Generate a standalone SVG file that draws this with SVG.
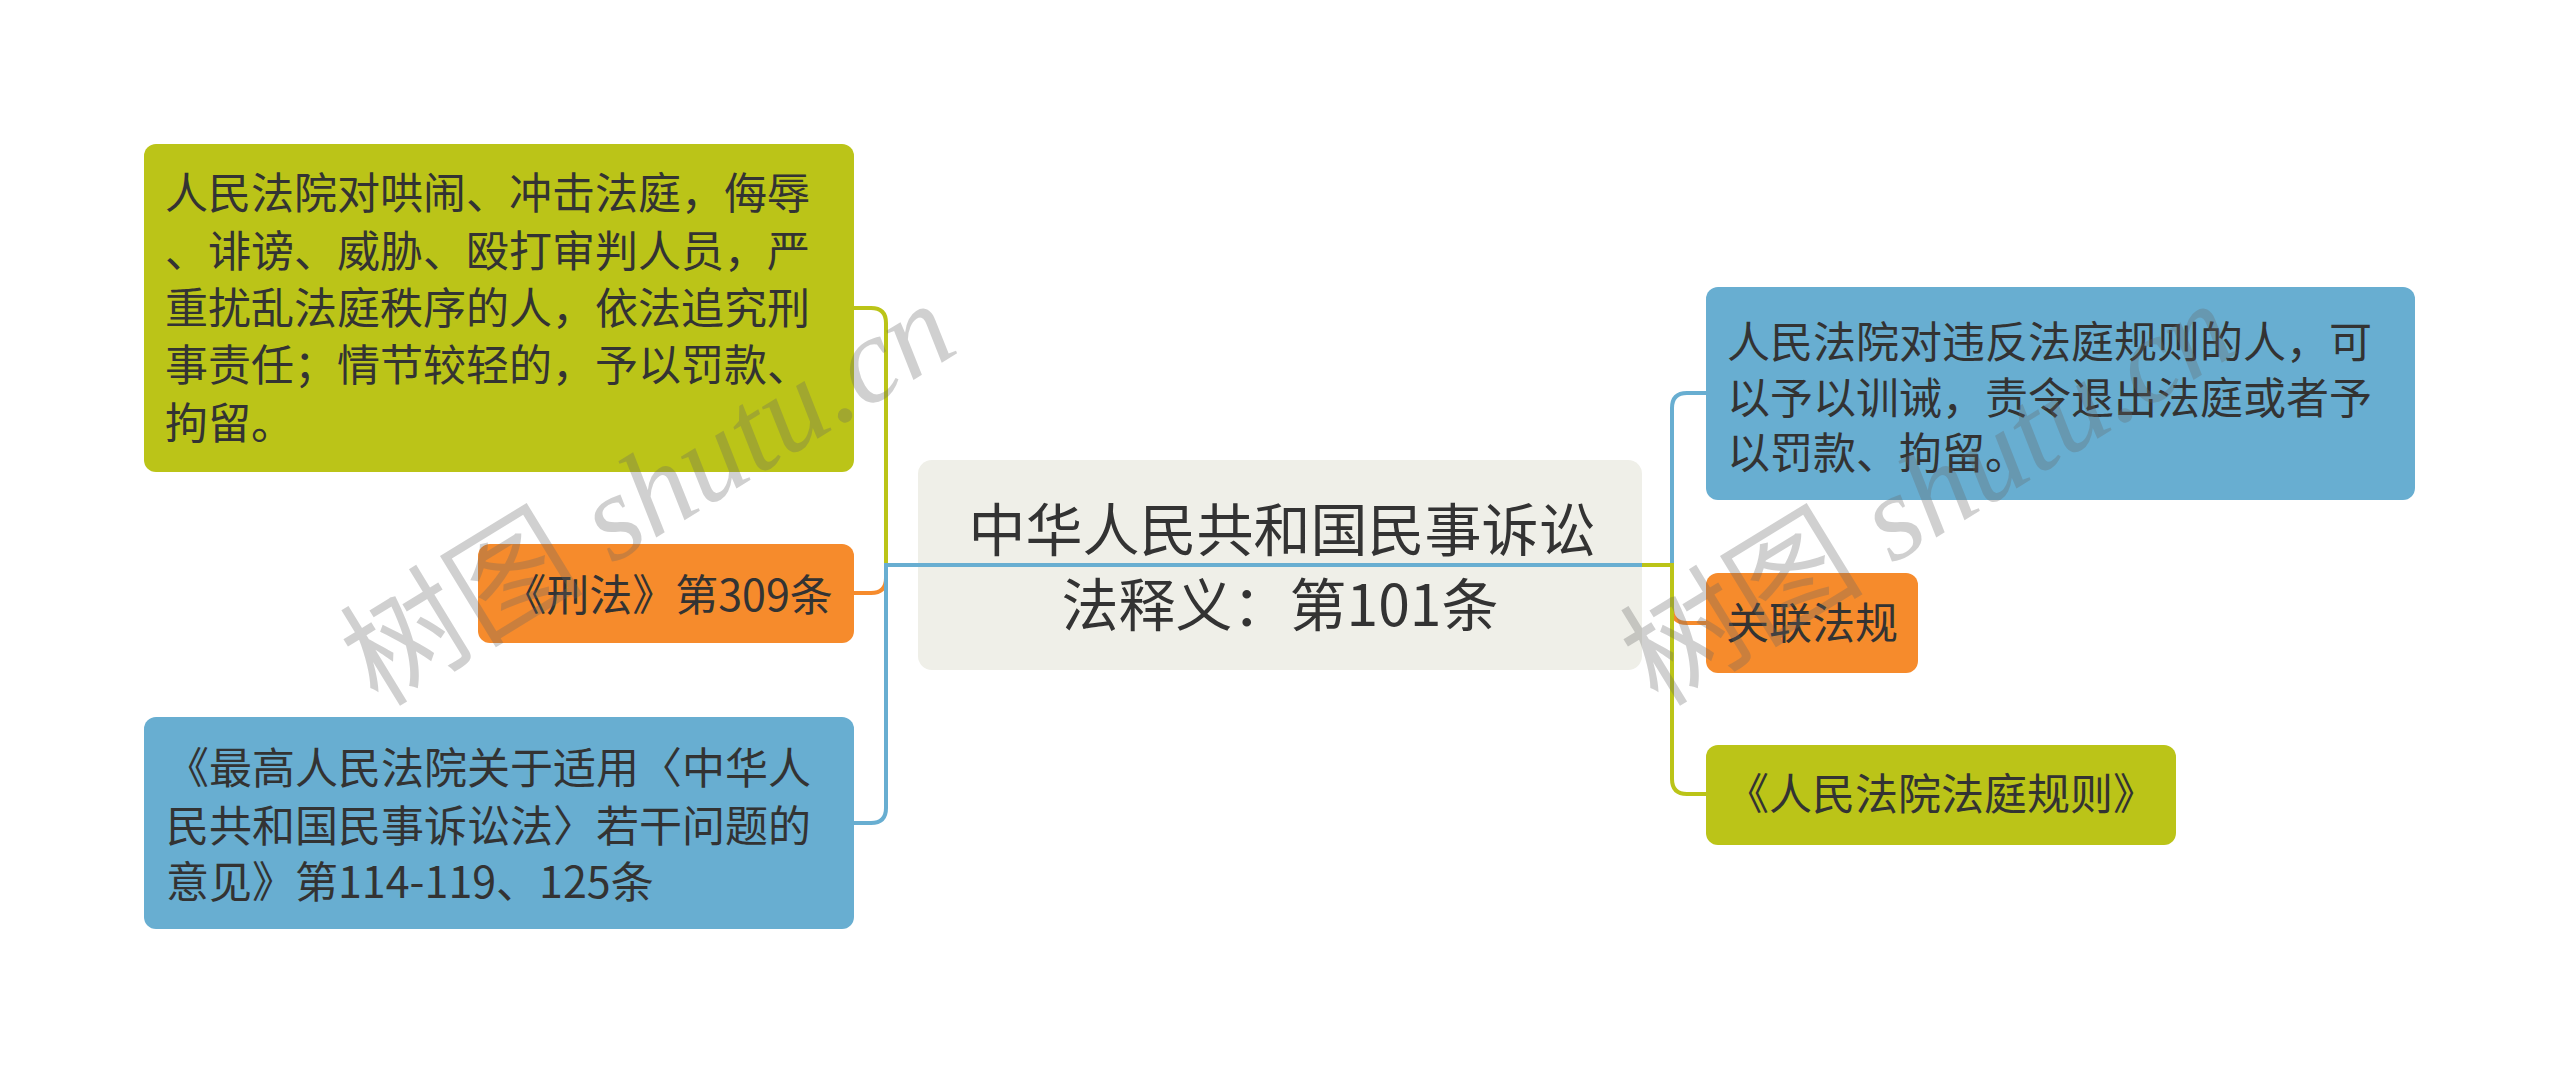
<svg xmlns="http://www.w3.org/2000/svg" width="2560" height="1075" viewBox="0 0 2560 1075">
<style>
  .t { font-family: "Noto Sans CJK SC", "Noto Sans", sans-serif; font-size: 43px; fill: #333333; }
  .tc { font-family: "Noto Sans CJK SC", "Noto Sans", sans-serif; font-size: 57px; fill: #333333; text-anchor: middle; }
  .mid { text-anchor: middle; }
  .green { fill: #BBC418; }
  .orange { fill: #F68B2C; }
  .blue { fill: #68AED1; }
  .center { fill: #EFEFE8; }
  .ln { fill: none; stroke-width: 4; stroke-linejoin: miter; }
  .lg { stroke: #BBC418; }
  .lo { stroke: #F68B2C; }
  .lb { stroke: #68AED1; }
  .wm { font-family: "Liberation Serif", "Noto Sans CJK SC", serif; font-size: 122px; fill: #666666; opacity: 0.3; }
  .wmi { font-style: italic; }
</style>
<rect width="2560" height="1075" fill="#ffffff"/>

<g id="root">
  <rect class="center" x="918" y="460" width="724" height="210" rx="14"/>
  <text class="tc" x="1282" y="551">中华人民共和国民事诉讼</text>
  <text class="tc" x="1280" y="626">法释义：第101条</text>
</g>

<g id="connectors">
  <path class="ln lg" d="M 918 565 L 886 565 L 886 323 Q 886 308 871 308 L 854 308"/>
  <path class="ln lo" d="M 886 567 L 886 578 Q 886 593 871 593 L 854 593"/>
  <path class="ln lb" d="M 1642 565 L 886 565 L 886 808 Q 886 823 871 823 L 854 823"/>
  <path class="ln lb" d="M 1672 567 L 1672 408 Q 1672 393 1687 393 L 1706 393"/>
  <path class="ln lo" d="M 1672 598 L 1672 608 Q 1672 623 1687 623 L 1706 623"/>
  <path class="ln lg" d="M 1642 565 L 1672 565 L 1672 779 Q 1672 794 1687 794 L 1706 794"/>
</g>

<g id="node-left-1">
  <rect class="green" x="144" y="144" width="710" height="328" rx="12"/>
  <text class="t" x="165" y="209">人民法院对哄闹、冲击法庭，侮辱</text>
  <text class="t" x="165" y="267">、诽谤、威胁、殴打审判人员，严</text>
  <text class="t" x="165" y="324">重扰乱法庭秩序的人，依法追究刑</text>
  <text class="t" x="165" y="381">事责任；情节较轻的，予以罚款、</text>
  <text class="t" x="165" y="439">拘留。</text>
</g>

<g id="node-left-2">
  <rect class="orange" x="478" y="544" width="376" height="99" rx="12"/>
  <text class="t mid" x="668" y="611">《刑法》第309条</text>
</g>

<g id="node-left-3">
  <rect class="blue" x="144" y="717" width="710" height="212" rx="12"/>
  <text class="t" x="166" y="784">《最高人民法院关于适用〈中华人</text>
  <text class="t" x="166" y="842">民共和国民事诉讼法〉若干问题的</text>
  <text class="t" x="166" y="898">意见》第114-119、125条</text>
</g>

<g id="node-right-1">
  <rect class="blue" x="1706" y="287" width="709" height="213" rx="12"/>
  <text class="t" x="1727" y="358">人民法院对违反法庭规则的人，可</text>
  <text class="t" x="1727" y="414">以予以训诫，责令退出法庭或者予</text>
  <text class="t" x="1727" y="469">以罚款、拘留。</text>
</g>

<g id="node-right-2">
  <rect class="orange" x="1706" y="573" width="212" height="100" rx="12"/>
  <text class="t mid" x="1812" y="639">关联法规</text>
</g>

<g id="node-right-3">
  <rect class="green" x="1706" y="745" width="470" height="100" rx="12"/>
  <text class="t mid" x="1941" y="810">《人民法院法庭规则》</text>
</g>

<g id="watermark">
  <text class="wm" transform="translate(378 708) rotate(-31.5)">树图 <tspan class="wmi">shutu.cn</tspan></text>
  <text class="wm" transform="translate(1658 708) rotate(-31.5)">树图 <tspan class="wmi">shutu.cn</tspan></text>
</g>
</svg>
